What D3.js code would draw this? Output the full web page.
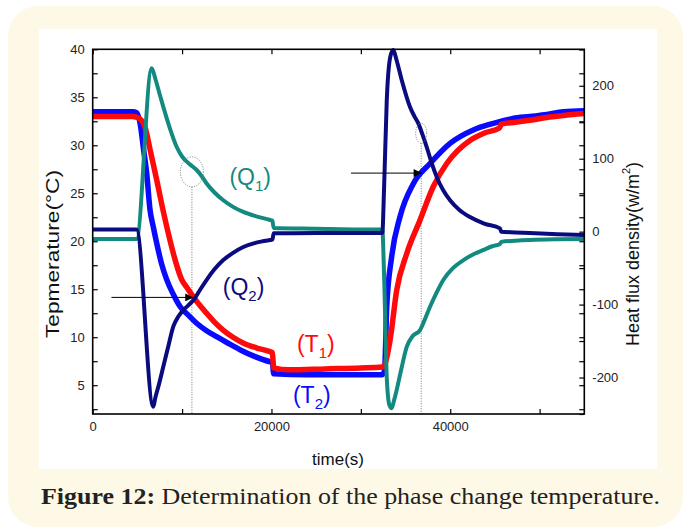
<!DOCTYPE html>
<html>
<head>
<meta charset="utf-8">
<script src="https://cdn.jsdelivr.net/npm/d3@7"></script>
<style>
body{margin:0;background:#fff;}
svg{display:block;font-family:"Liberation Sans",Arial,sans-serif;}
</style>
</head>
<body>
<div id="chart"></div>
<script>
/************************************ Data *******************************/
var timeDomain=[0,55000];
var tempDomain=[2,40];
var fluxDomain=[-250,250];
var timeTicks=[0,10000,20000,30000,40000,50000];
var timeLabels=[0,20000,40000];
var tempTicks=d3.range(2.5,40.01,2.5);
var tempLabels=[5,10,15,20,25,30,35,40];
var fluxTicks=d3.range(-250,250.01,50);
var fluxLabels=[-200,-100,0,100,200];

// temperatures (°C) : [time s, value]
var T1=[[0,33.0],[2000,33.0],[4500,33.0],[5200,32.8],[5850,31.9],[6500,29.2],[7160,26.4],[7900,23.1],[8650,20.1],
	[9300,17.8],[9960,16.0],[10600,15.1],[11260,14.2],[12000,13.3],[12750,12.5],[13600,11.6],[14590,10.75],
	[15700,10.0],[16830,9.4],[18300,8.9],[19840,8.5],[20100,8.4],[20250,6.8],[22000,6.6],[26000,6.7],
	[30000,6.8],[32400,6.9],[32650,7.1],[33270,9.7],[34010,14.9],[35130,18.7],[36620,22.2],[38110,25.7],
	[39610,28.1],[40900,29.5],[42210,30.5],[43900,31.3],[45500,31.8],[45700,32.2],[47300,32.4],
	[48920,32.6],[50800,32.9],[52650,33.1],[55000,33.3]];
var T2=[[0,33.5],[4500,33.5],[4900,33.4],[5300,32.3],[5700,29.5],[6040,27.1],[6410,23.3],[6780,21.5],
	[7160,19.8],[7720,17.6],[8280,16.0],[9000,14.5],[9770,13.2],[10700,12.3],[11630,11.45],[12700,10.7],
	[13870,10.05],[15100,9.4],[16480,8.7],[18100,8.0],[19840,7.45],[20100,7.4],[20250,6.2],[24000,6.1],
	[28000,6.1],[32400,6.1],[32650,6.5],[32900,13.2],[33450,18.4],[34380,22.55],[35870,26.0],[37740,28.1],
	[39980,30.2],[42580,31.6],[44500,32.2],[45700,32.5],[47000,32.8],[48920,33.0],[50800,33.2],
	[52650,33.5],[55000,33.6]];
// heat flux densities (W/m2) : [time s, value]
var Q1=[[0,-10],[4900,-10],[6600,224],[7000,210],[7500,188],[7900,171],[8600,143],[9400,116],[10000,103],
	[10520,96],[11100,90],[11630,84.5],[12200,76],[12750,66],[13600,54],[14610,43],[15700,34],[16850,27],
	[18300,21],[19840,16],[20100,15],[20250,5],[25000,4],[30000,3],[32400,3],[32600,-60],[32900,-200],
	[33200,-238],[33450,-242],[33700,-232],[34010,-217],[34500,-190],[35130,-158],[35800,-143],[36620,-135],
	[37100,-122],[37740,-103],[38500,-83],[39240,-66],[40300,-50],[41480,-39],[42600,-31],[43720,-25],
	[44700,-20],[45570,-17],[45700,-14],[47300,-12.5],[48920,-11.5],[52000,-10.5],[55000,-10]];
var Q2=[[0,3],[4900,3],[6780,-240],[7000,-228],[7400,-210],[7900,-185],[8500,-155],[9020,-130],[9600,-116],
	[10140,-107.5],[10700,-101],[11260,-94],[12000,-80],[12750,-66],[13600,-52],[14610,-39],[15700,-29],
	[16850,-21],[18300,-15],[19840,-11.5],[20100,-11],[20250,-2.3],[25000,-2],[32400,-2],[32600,60],
	[32900,180],[33300,240],[33630,249],[34000,235],[34570,208],[35500,171],[36000,158],[36430,148.5],
	[36900,133],[37370,116],[37900,95],[38490,75],[39200,57],[39980,43],[41000,30],[42210,20],[43800,11],
	[45570,4.5],[45700,0],[47300,-1],[48920,-2],[52000,-3.5],[55000,-4.6]];

// phase change marks : arrow start/end time, temperature ; circled flux point
var arrowStart=[2100,28900];
var arrowEnd=[11250,36800];
var arrowTemp=[14.15,27.1];
var markTime=[11100,36750];
var markFlux=[82,135];

/************************************ Layout *******************************/
var W=685,H=529;
var svg=d3.select("#chart").append("svg").attr("width",W).attr("height",H);

svg.append("rect").attr("x",8).attr("y",6).attr("width",675).attr("height",521)
	.attr("rx",30).attr("ry",30).attr("fill","#fef9e7");
svg.append("rect").attr("x",39).attr("y",29).attr("width",618).attr("height",440).attr("fill","#fff");

var pLeft=92.7,pRight=584.3,pTop=49.3,pBottom=414;
var x=d3.scaleLinear().domain(timeDomain).range([pLeft,pRight]);
var yL=d3.scaleLinear().domain(tempDomain).range([pBottom,pTop]);
var yR=d3.scaleLinear().domain(fluxDomain).range([pBottom,pTop]);

/************************************ Axes *******************************/
function styleAxis(g){
	g.select(".domain").remove();
	g.selectAll(".tick line").attr("stroke","#000").attr("stroke-width",1.2);
	g.selectAll(".tick text").attr("fill","#222").attr("font-size",13)
		.attr("font-family","Liberation Sans, Arial, sans-serif");
}
var fmt=function(list){return function(d){return list.indexOf(d)>=0?d:"";};};

svg.append("g").attr("transform","translate("+pLeft+",0)")
	.call(d3.axisLeft(yL).tickValues(tempTicks).tickSizeInner(-5).tickSizeOuter(0).tickPadding(8).tickFormat(fmt(tempLabels)))
	.call(styleAxis);
svg.append("g").attr("transform","translate("+pRight+",0)")
	.call(d3.axisRight(yL).tickValues(tempTicks).tickSizeInner(-5).tickSizeOuter(0).tickFormat(""))
	.call(styleAxis);
svg.append("g").attr("transform","translate("+pRight+",0)")
	.call(d3.axisRight(yR).tickValues(fluxTicks).tickSizeInner(-5).tickSizeOuter(0).tickPadding(8).tickFormat(fmt(fluxLabels)))
	.call(styleAxis);
svg.append("g").attr("transform","translate(0,"+pBottom+")")
	.call(d3.axisBottom(x).tickValues(timeTicks).tickSizeInner(-5).tickSizeOuter(0).tickPadding(8).tickFormat(fmt(timeLabels)))
	.call(styleAxis);
svg.append("g").attr("transform","translate(0,"+pTop+")")
	.call(d3.axisTop(x).tickValues(timeTicks).tickSizeInner(-5).tickSizeOuter(0).tickFormat(""))
	.call(styleAxis);

/************************************ Marks *******************************/
// dotted guides
svg.selectAll(".guide").data(markTime).enter().append("line")
	.attr("x1",function(d){return x(d);}).attr("x2",function(d){return x(d);})
	.attr("y1",function(d,i){return yR(markFlux[i])+(i==0?15:10);}).attr("y2",pBottom)
	.attr("stroke","#777").attr("stroke-width",1).attr("stroke-dasharray","1,1.5");

var line=function(sc){
	return d3.line().x(function(d){return x(d[0]);}).y(function(d){return sc(d[1]);}).curve(d3.curveMonotoneX);
};
var series=[
	{data:T2,scale:yL,color:"#0a0aff",w:5.5},
	{data:T1,scale:yL,color:"#ff0a0a",w:5.5},
	{data:Q1,scale:yR,color:"#138a80",w:4},
	{data:Q2,scale:yR,color:"#0b0b80",w:4}
];
svg.selectAll(".series").data(series).enter().append("path")
	.attr("d",function(s){return line(s.scale)(s.data);})
	.attr("fill","none").attr("stroke",function(s){return s.color;})
	.attr("stroke-width",function(s){return s.w;}).attr("stroke-linejoin","round");

// circled points
svg.selectAll(".mark").data(markTime).enter().append("ellipse")
	.attr("cx",function(d){return x(d);}).attr("cy",function(d,i){return yR(markFlux[i]);})
	.attr("rx",function(d,i){return i==0?11.5:5.5;}).attr("ry",function(d,i){return i==0?15:10;})
	.attr("fill","none").attr("stroke","#777").attr("stroke-width",1).attr("stroke-dasharray","1,1.5");

// arrows
svg.append("defs").append("marker").attr("id","ah").attr("viewBox","0 0 10 10")
	.attr("refX",10).attr("refY",5).attr("markerWidth",10).attr("markerHeight",8)
	.attr("markerUnits","userSpaceOnUse").attr("orient","auto")
	.append("path").attr("d","M0,0L10,5L0,10Z").attr("fill","#000");
svg.selectAll(".arrow").data(arrowStart).enter().append("line")
	.attr("x1",function(d){return x(d);}).attr("x2",function(d,i){return x(arrowEnd[i]);})
	.attr("y1",function(d,i){return yL(arrowTemp[i]);}).attr("y2",function(d,i){return yL(arrowTemp[i]);})
	.attr("stroke","#000").attr("stroke-width",1).attr("marker-end","url(#ah)");

// frame
svg.append("rect").attr("x",pLeft).attr("y",pTop).attr("width",pRight-pLeft).attr("height",pBottom-pTop)
	.attr("fill","none").attr("stroke","#000").attr("stroke-width",1.6);

/************************************ Labels *******************************/
var curveLabels=[
	{name:"Q",sub:"1",t:15300,v:25.85,color:"#138a80"},
	{name:"Q",sub:"2",t:14550,v:14.4,color:"#0b0b80"},
	{name:"T",sub:"1",t:22850,v:8.45,color:"#ff0a0a"},
	{name:"T",sub:"2",t:22400,v:3.15,color:"#0a0aff"}
];
curveLabels.forEach(function(c){
	var t=svg.append("text").attr("x",x(c.t)).attr("y",yL(c.v)).attr("fill",c.color).attr("font-size",23);
	t.append("tspan").text("("+c.name);
	t.append("tspan").attr("font-size",15).attr("dy",6).text(c.sub);
	t.append("tspan").attr("dy",-6).text(")");
});

svg.append("text").attr("transform","translate(52,254) rotate(-90)").attr("text-anchor","middle")
	.attr("dominant-baseline","central").attr("font-size",19).attr("fill","#111")
	.attr("textLength",168).attr("lengthAdjust","spacingAndGlyphs")
	.text("Tepmerature(°C)");
var hf=svg.append("text").attr("transform","translate(633,254) rotate(-90)").attr("text-anchor","middle")
	.attr("dominant-baseline","central").attr("font-size",18).attr("fill","#111");
hf.append("tspan").text("Heat flux density(w/m");
hf.append("tspan").attr("font-size",11).attr("dy",-7).text("2");
hf.append("tspan").attr("dy",7).text(")");
svg.append("text").attr("x",338).attr("y",465).attr("text-anchor","middle").attr("font-size",17)
	.attr("fill","#111").text("time(s)");

var cap=svg.append("text").attr("x",41).attr("y",504).attr("font-size",23)
	.attr("font-family","Liberation Serif, Times New Roman, serif").attr("fill","#222")
	.attr("textLength",619).attr("lengthAdjust","spacingAndGlyphs");
cap.append("tspan").attr("font-weight","bold").text("Figure 12:");
cap.append("tspan").text(" Determination of the phase change temperature.");
</script>
</body>
</html>
